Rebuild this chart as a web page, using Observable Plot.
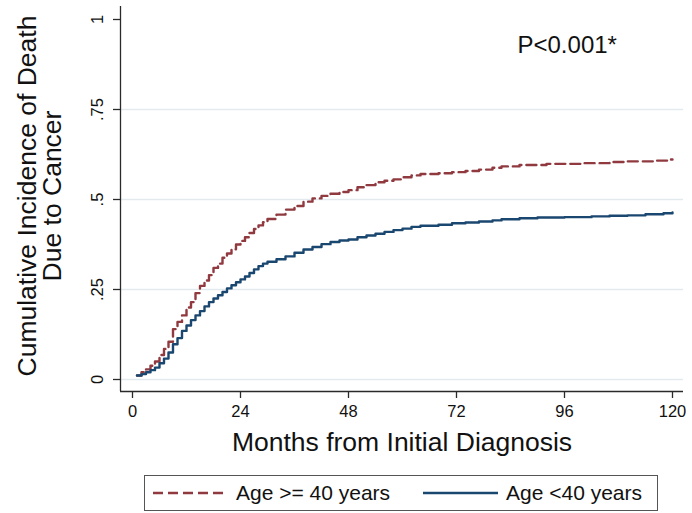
<!DOCTYPE html>
<html>
<head>
<meta charset="utf-8">
<script src="https://cdn.jsdelivr.net/npm/d3@7"></script>
<script src="https://cdn.jsdelivr.net/npm/@observablehq/plot@0.6"></script>
<style>
  html, body { margin: 0; padding: 0; background: #fff; }
  body { position: relative; width: 692px; height: 513px; font-family: "Liberation Sans", Arial, sans-serif; }
  #legend { position: absolute; left: 144px; top: 475px; width: 512px; height: 34px; border: 1px solid #555; box-sizing: content-box; }
  #legend .item { position: absolute; top: 0; height: 34px; display: flex; align-items: center; font-size: 21px; color: #111; }
  #legend svg { display: block; }
</style>
</head>
<body>
<div id="chart"></div>
<div id="legend"></div>
<script>
// ---- data ----
const seriesNames = ["Age >= 40 years", "Age <40 years"];

const monthsOld = [1,2,3,4,5,6,7,8,9,10,11,12,13,14,15,16,17,18,19,20,21,22,23,24,25,26,27,28,29,30,32,34,36,38,40,42,44,46,48,50,52,54,56,58,60,62,64,68,71,74,77,80,82,86,92,100,106,110,116,119,120];
const cifOld = [0.011,0.02,0.028,0.038,0.05,0.068,0.085,0.105,0.14,0.16,0.178,0.2,0.215,0.24,0.26,0.275,0.29,0.31,0.322,0.338,0.35,0.362,0.375,0.385,0.395,0.407,0.418,0.428,0.437,0.446,0.458,0.472,0.482,0.494,0.503,0.51,0.516,0.521,0.526,0.534,0.54,0.548,0.552,0.556,0.562,0.567,0.571,0.573,0.576,0.579,0.583,0.588,0.592,0.596,0.599,0.601,0.604,0.606,0.608,0.611,0.611];

const monthsYoung = [1,2,3,4,5,6,7,8,9,10,11,12,13,14,15,16,17,18,19,20,21,22,23,24,25,26,27,28,29,30,32,34,36,38,40,42,44,46,48,50,52,54,56,58,60,62,64,68,71,74,77,80,82,86,90,96,102,106,110,114,118,120];
const cifYoung = [0.011,0.015,0.02,0.026,0.033,0.045,0.058,0.075,0.098,0.115,0.135,0.15,0.165,0.178,0.19,0.203,0.215,0.225,0.234,0.243,0.253,0.262,0.27,0.278,0.286,0.296,0.306,0.315,0.322,0.327,0.334,0.342,0.352,0.361,0.368,0.376,0.382,0.386,0.389,0.395,0.4,0.405,0.41,0.415,0.419,0.424,0.427,0.43,0.434,0.436,0.439,0.442,0.445,0.448,0.45,0.451,0.453,0.455,0.456,0.459,0.462,0.464];

const xTicks = [0, 24, 48, 72, 96, 120];
const yTicks = [0, 0.25, 0.5, 0.75, 1];
const yTickLabels = ["0", ".25", ".5", ".75", "1"];
const gridValues = [0, 0.25, 0.5, 0.75];

const xTitle = "Months from Initial Diagnosis";
const yTitle = "Cumulative Incidence of Death\nDue to Cancer";
const annotation = "P<0.001*";

// ---- styling ----
const colors = ["#903A40", "#1A476F"];
const dashes = ["10,5", null];
const axisColor = "#2a2a2a";
const gridColor = "#e2eaee";
const font = "'Liberation Sans', Arial, sans-serif";

const xDomain = [-2.6667, 122.4444];
const yDomain = [-0.03333, 1.03611];

const rows = [];
monthsOld.forEach((m, i) => rows.push({group: seriesNames[0], month: m, cif: cifOld[i]}));
monthsYoung.forEach((m, i) => rows.push({group: seriesNames[1], month: m, cif: cifYoung[i]}));

const chart = Plot.plot({
  width: 692,
  height: 466,
  marginLeft: 120,
  marginRight: 9,
  marginTop: 6,
  marginBottom: 75,
  style: {fontFamily: font, color: "#111", background: "#fff"},
  x: {domain: xDomain, axis: null},
  y: {domain: yDomain, axis: null},
  marks: [
    Plot.ruleY(gridValues, {stroke: gridColor, strokeWidth: 1.6, x1: xDomain[0], x2: xDomain[1]}),
    Plot.line(rows.filter(d => d.group === seriesNames[0]), {x: "month", y: "cif", curve: "step-after", stroke: colors[0], strokeWidth: 2.4, strokeDasharray: dashes[0]}),
    Plot.line(rows.filter(d => d.group === seriesNames[1]), {x: "month", y: "cif", curve: "step-after", stroke: colors[1], strokeWidth: 2.4}),
    Plot.ruleX([xDomain[0]], {stroke: axisColor, strokeWidth: 1.3}),
    Plot.ruleY([yDomain[0]], {stroke: axisColor, strokeWidth: 1.3}),
    Plot.axisX({ticks: xTicks, tickSize: 7, tickPadding: 7, fontSize: 16.5, label: null, stroke: axisColor, strokeWidth: 1.3}),
    Plot.axisY({ticks: yTicks, tickSize: 7, tickFormat: () => "", label: null, stroke: axisColor, strokeWidth: 1.3}),
    Plot.text(yTicks, {x: xDomain[0], y: d => d, text: (d, i) => yTickLabels[i], rotate: -90, dx: -18, lineAnchor: "bottom", textAnchor: "middle", fontSize: 16.5, fill: "#111"}),
    Plot.text([xTitle], {frameAnchor: "bottom", dy: 59, lineAnchor: "bottom", textAnchor: "middle", fontSize: 26.5, fill: "#111"}),
    Plot.text([yTitle], {frameAnchor: "left", dx: -80, dy: -3, rotate: -90, lineAnchor: "middle", textAnchor: "middle", lineHeight: 0.93, fontSize: 26.5, fill: "#111"}),
    Plot.text([annotation], {frameAnchor: "top-left", dx: 397, dy: 46, textAnchor: "start", lineAnchor: "bottom", fontSize: 24, fill: "#111"})
  ]
});
document.getElementById("chart").appendChild(chart);

// ---- legend ----
const legend = document.getElementById("legend");
const legendPos = [{line: 8, text: 91}, {line: 278, text: 361}];
seriesNames.forEach((name, i) => {
  const sw = document.createElementNS("http://www.w3.org/2000/svg", "svg");
  sw.setAttribute("width", 75); sw.setAttribute("height", 34);
  const ln = document.createElementNS("http://www.w3.org/2000/svg", "line");
  ln.setAttribute("x1", 0); ln.setAttribute("x2", 75); ln.setAttribute("y1", 17); ln.setAttribute("y2", 17);
  ln.setAttribute("stroke", colors[i]); ln.setAttribute("stroke-width", 2.4);
  if (dashes[i]) ln.setAttribute("stroke-dasharray", dashes[i]);
  sw.appendChild(ln);
  const a = document.createElement("div"); a.className = "item"; a.style.left = legendPos[i].line + "px"; a.appendChild(sw);
  const b = document.createElement("div"); b.className = "item"; b.style.left = legendPos[i].text + "px"; b.textContent = name;
  legend.appendChild(a); legend.appendChild(b);
});
</script>
</body>
</html>
